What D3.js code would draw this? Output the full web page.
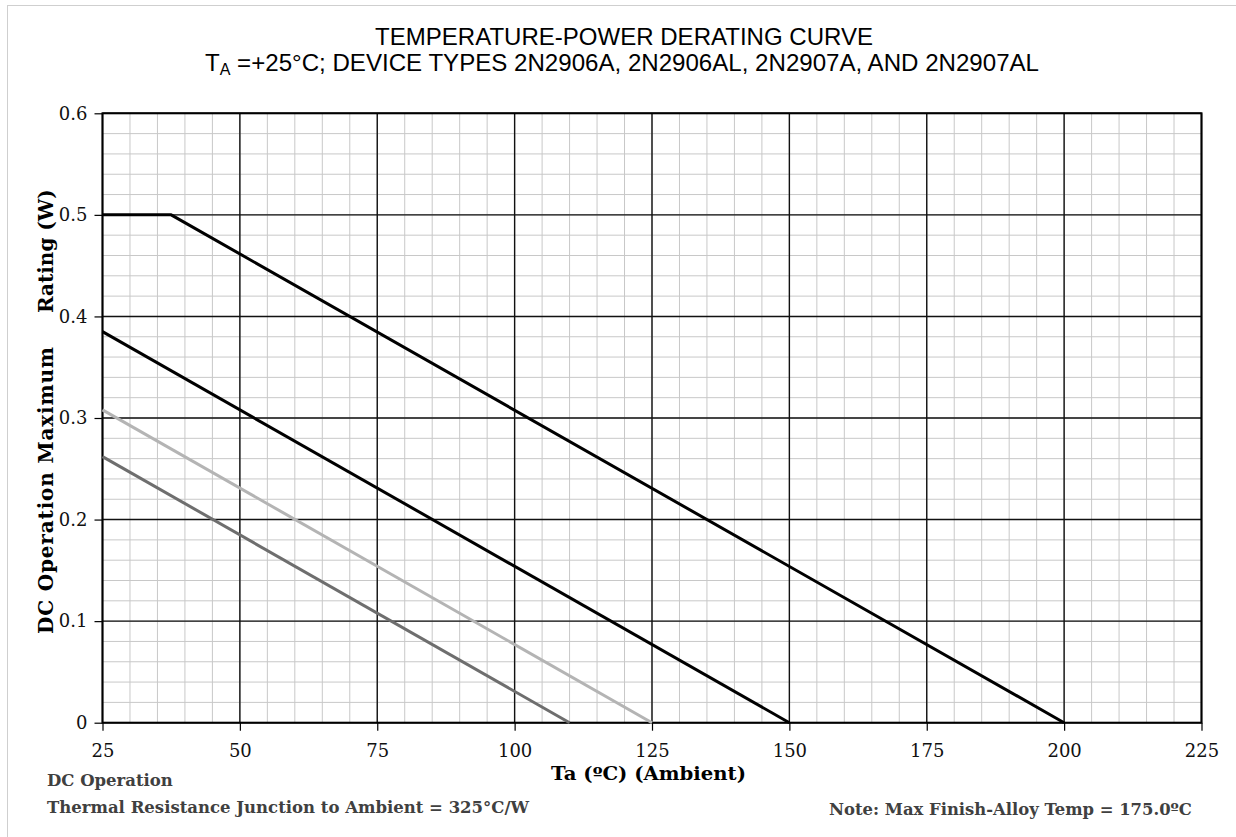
<!DOCTYPE html>
<html><head><meta charset="utf-8">
<script src="https://cdn.jsdelivr.net/npm/d3@7"></script>
<style>body{margin:0;background:#fff}svg{display:block}</style>
</head><body>
<svg id="c" width="1236" height="837"></svg>
<script>
// ---- data ----
const titleLine1 = "TEMPERATURE-POWER DERATING CURVE";
const titleLine2 = " =+25°C; DEVICE TYPES 2N2906A, 2N2906AL, 2N2907A, AND 2N2907AL";
const xTicks = [25, 50, 75, 100, 125, 150, 175, 200, 225];
const yTicks = [0, 0.1, 0.2, 0.3, 0.4, 0.5, 0.6];
const yTickLabels = ["0", "0.1", "0.2", "0.3", "0.4", "0.5", "0.6"];
const xMinor = d3.range(25, 226, 5);
const yMinor = d3.range(0, 0.601, 0.02);
const curve1X = [25, 37.5, 200], curve1Y = [0.5, 0.5, 0];
const curve2X = [25, 150],       curve2Y = [0.385, 0];
const curve3X = [25, 125],       curve3Y = [0.308, 0];
const curve4X = [25, 110],       curve4Y = [0.262, 0];
const seriesColors = ["#000000", "#000000", "#b4b4b4", "#6e6e6e"];

// ---- layout ----
const svg = d3.select("#c");
const L = 102.5, R = 1201.5, T = 113.3, B = 722.7;
const x = d3.scaleLinear().domain([25, 225]).range([L, R]);
const y = d3.scaleLinear().domain([0, 0.6]).range([B, T]);

// outer frame
svg.append("line").attr("x1",7).attr("x2",1236).attr("y1",5.5).attr("y2",5.5).attr("stroke","#cfcfcf");
svg.append("line").attr("x1",7.5).attr("x2",7.5).attr("y1",5).attr("y2",837).attr("stroke","#cfcfcf");

// minor grid
const g = svg.append("g");
g.selectAll(".vx").data(xMinor).join("line")
  .attr("x1",d=>x(d)).attr("x2",d=>x(d)).attr("y1",T).attr("y2",B)
  .attr("stroke","#c8c8c8").attr("stroke-width",1);
g.selectAll(".hy").data(yMinor).join("line")
  .attr("x1",L).attr("x2",R).attr("y1",d=>y(d)).attr("y2",d=>y(d))
  .attr("stroke","#c8c8c8").attr("stroke-width",1);
// major grid
g.selectAll(".mx").data(xTicks).join("line")
  .attr("x1",d=>x(d)).attr("x2",d=>x(d)).attr("y1",T).attr("y2",B)
  .attr("stroke","#111").attr("stroke-width",1.4);
g.selectAll(".my").data(yTicks).join("line")
  .attr("x1",L).attr("x2",R).attr("y1",d=>y(d)).attr("y2",d=>y(d))
  .attr("stroke","#111").attr("stroke-width",1.4);
// border
svg.append("rect").attr("x",L).attr("y",T).attr("width",R-L).attr("height",B-T)
  .attr("fill","none").attr("stroke","#000").attr("stroke-width",2);

// axes
const xAxis = svg.append("g").attr("transform",`translate(0,${B})`)
  .call(d3.axisBottom(x).tickValues(xTicks).tickSize(8).tickPadding(14).tickFormat(d3.format("d")));
const yAxis = svg.append("g").attr("transform",`translate(${L},0)`)
  .call(d3.axisLeft(y).tickValues(yTicks).tickSize(8).tickPadding(7).tickFormat((d,i)=>yTickLabels[i]));
[xAxis,yAxis].forEach(a=>{
  a.select(".domain").remove();
  a.selectAll(".tick line").attr("stroke","#000").attr("stroke-width",1.2);
  a.selectAll(".tick text").attr("fill","#111").style("font-family","'DejaVu Serif', serif").style("font-size","18px");
});
xAxis.selectAll(".tick text").attr("dy","0.71em");

// curves
const line = d3.line().x(d=>x(d[0])).y(d=>y(d[1]));
const series = [[curve1X,curve1Y],[curve2X,curve2Y],[curve3X,curve3Y],[curve4X,curve4Y]];
series.slice().reverse().forEach((s,ri)=>{
  const i = series.length-1-ri;
  svg.append("path").datum(s[0].map((v,k)=>[v,s[1][k]]))
    .attr("d",line).attr("fill","none").attr("stroke",seriesColors[i])
    .attr("stroke-width",3).attr("stroke-linejoin","round");
});

// titles
const sans = "'Liberation Sans', Arial, sans-serif";
svg.append("text").attr("x",624).attr("y",45).attr("text-anchor","middle")
  .attr("textLength",498).attr("lengthAdjust","spacingAndGlyphs")
  .style("font-family",sans).style("font-size","24px").attr("fill","#000").text(titleLine1);
const t2 = svg.append("text").attr("x",205).attr("y",71)
  .attr("textLength",834).attr("lengthAdjust","spacingAndGlyphs")
  .style("font-family",sans).style("font-size","24px").attr("fill","#000");
t2.append("tspan").text("T");
t2.append("tspan").attr("dy",4).style("font-size","16px").text("A");
t2.append("tspan").attr("dy",-4).text(titleLine2);

// axis titles
const serif = "'DejaVu Serif', serif";
svg.append("text").attr("x",648.5).attr("y",780).attr("text-anchor","middle")
  .attr("textLength",195).attr("lengthAdjust","spacingAndGlyphs")
  .style("font-family",serif).style("font-weight","bold").style("font-size","18px").attr("fill","#000")
  .text("Ta (ºC)  (Ambient)");
svg.append("text").attr("transform","translate(53,634) rotate(-90)")
  .attr("textLength",287).attr("lengthAdjust","spacing")
  .style("font-family",serif).style("font-weight","bold").style("font-size","20px").attr("fill","#000")
  .text("DC Operation Maximum");
svg.append("text").attr("transform","translate(53,313) rotate(-90)")
  .style("font-family",serif).style("font-weight","bold").style("font-size","20px").attr("fill","#000")
  .text("Rating (W)");

// notes: size the font so a measured piece of text matches its width in the reference
function note(txt, xPos, yPos, refPiece, refWidth) {
  const t = svg.append("text").attr("x",xPos).attr("y",yPos)
    .style("font-family",serif).style("font-weight","bold").style("font-size","15px")
    .attr("fill","#404040").text(refPiece);
  const w = t.node().getComputedTextLength();
  const fs = Math.min(16.5, 15 * refWidth / w);
  t.style("font-size", fs + "px").text(txt);
  return t;
}
note("DC Operation", 47, 786, "DC Operation", 130);
note("Thermal Resistance Junction to Ambient = 325°C/W", 47, 813, "Thermal Resistance Junction to Ambien", 373);
note("Note: Max Finish-Alloy Temp = 175.0ºC", 829, 815, "Note: Max Finish-Alloy Temp = 175.0ºC", 363);
</script>
</body></html>
